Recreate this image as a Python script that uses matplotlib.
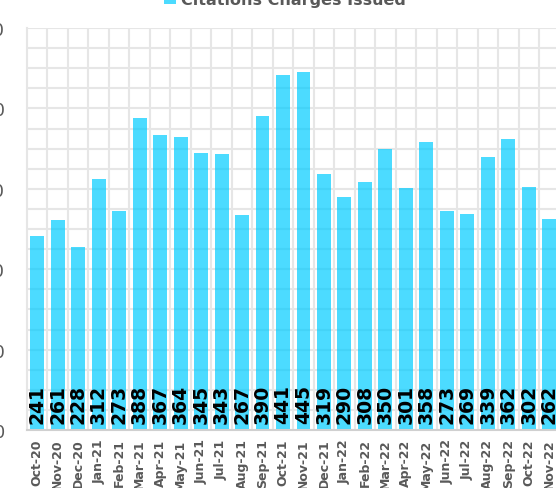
import matplotlib.pyplot as plt
import numpy as np
from matplotlib.ticker import MultipleLocator

months = ['Oct-20', 'Nov-20', 'Dec-20', 'Jan-21', 'Feb-21', 'Mar-21', 'Apr-21',
          'May-21', 'Jun-21', 'Jul-21', 'Aug-21', 'Sep-21', 'Oct-21', 'Nov-21',
          'Dec-21', 'Jan-22', 'Feb-22', 'Mar-22', 'Apr-22', 'May-22', 'Jun-22',
          'Jul-22', 'Aug-22', 'Sep-22', 'Oct-22', 'Nov-22']
citations = [241, 261, 228, 312, 273, 388, 367, 364, 345, 343, 267, 390, 441,
             445, 319, 290, 308, 350, 301, 358, 273, 269, 339, 362, 302, 262]

gray = '#595959'
x = np.arange(len(months))

fig = plt.figure(figsize=(5.56, 4.89), dpi=100)
# the original is a cropped screenshot, so the axes run past the edges
ax = fig.add_axes([27 / 556, 58 / 489, 532.5 / 556, 402 / 489])

bars = ax.bar(x, citations, width=0.68, color='#00ccff', alpha=0.7,
              label='Citations Charges Issued', zorder=2)

for b, v in zip(bars, citations):
    ax.annotate(str(v), xy=(b.get_x() + b.get_width() / 2, 0),
                xytext=(0, 5), textcoords='offset points',
                ha='center', va='bottom', rotation=90,
                fontsize=13.5, fontweight='heavy', color='black', zorder=3)

ax.set_xlim(-0.5, len(months) - 0.5)
ax.set_ylim(0, 500)
ax.yaxis.set_major_locator(MultipleLocator(100))
ax.yaxis.set_minor_locator(MultipleLocator(25))
ax.set_xticks(x)
ax.set_xticks(x[:-1] + 0.5, minor=True)
ax.set_xticklabels(months, rotation=90, fontsize=9, fontweight='bold', color=gray)
ax.tick_params(axis='x', which='both', length=0, pad=6)
ax.tick_params(axis='y', which='both', length=0, pad=16, labelsize=13, labelcolor=gray)

ax.set_axisbelow(True)
ax.grid(axis='y', which='both', color='#e6e6e6', linewidth=1.5)
ax.grid(axis='x', which='minor', color='#e6e6e6', linewidth=1.5)
for s in ['top', 'right']:
    ax.spines[s].set_visible(False)
ax.spines['left'].set_color('#e6e6e6')
ax.spines['left'].set_linewidth(1.5)
ax.spines['bottom'].set_color('#d0d0d0')
ax.spines['bottom'].set_linewidth(1.5)

fig.legend(handles=[bars], loc='center', bbox_to_anchor=(0.513, 1.0),
           frameon=False, handlelength=0.75, handleheight=0.75, handletextpad=0.3,
           prop={'size': 11.5, 'weight': 'bold'}, labelcolor=gray)

fig.savefig('out.png', dpi=100)
